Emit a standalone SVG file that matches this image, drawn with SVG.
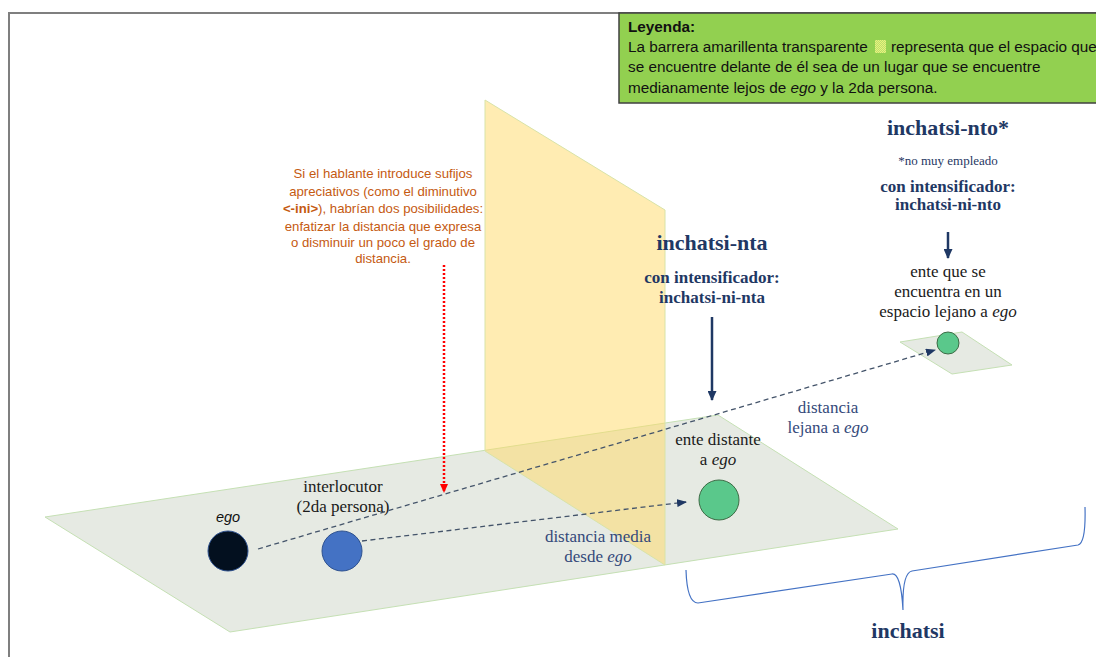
<svg xmlns="http://www.w3.org/2000/svg" width="1096" height="657" viewBox="0 0 1096 657">
  <style>
    .sans { font-family: "Liberation Sans", Arial, sans-serif; }
    .serif { font-family: "Liberation Serif", "Times New Roman", serif; }
    .title { font-family: "Liberation Serif", serif; font-weight: bold; font-size: 22px; fill: #1f3864; text-anchor: middle; }
    .sub { font-family: "Liberation Serif", serif; font-weight: bold; font-size: 17px; fill: #1f3864; text-anchor: middle; }
    .lbl { font-family: "Liberation Serif", serif; font-size: 17px; fill: #1a1a1a; text-anchor: middle; }
    .dist { font-family: "Liberation Serif", serif; font-size: 17px; fill: #34497a; text-anchor: middle; }
    .note { font-family: "Liberation Sans", sans-serif; font-size: 13.2px; fill: #c55a11; text-anchor: middle; }
    .legend { font-family: "Liberation Sans", sans-serif; font-size: 15.3px; fill: #111; }
    .plane { fill: #e6eae3; stroke: #c5e0b4; stroke-width: 1; }
    .dash { stroke: #44546a; stroke-width: 1.3; stroke-dasharray: 5 3.5; fill: none; }
    .navy { stroke: #1f3864; stroke-width: 2.5; fill: none; }
  </style>
  <defs>
    <marker id="dashHead" markerWidth="10" markerHeight="8" refX="9" refY="4" orient="auto" markerUnits="userSpaceOnUse">
      <path d="M0,0 L10,4 L0,8 Z" fill="#1f3864"/>
    </marker>
    <marker id="navyHead" markerWidth="10" markerHeight="9" refX="9" refY="4.5" orient="auto" markerUnits="userSpaceOnUse">
      <path d="M0,0 L10,4.5 L0,9 Z" fill="#1f3864"/>
    </marker>
    <marker id="redHead" markerWidth="9" markerHeight="8" refX="8" refY="4" orient="auto" markerUnits="userSpaceOnUse">
      <path d="M0,0 L9,4 L0,8 Z" fill="#ff0000"/>
    </marker>
    <!-- dotted swatch of the barrier colour -->
    <pattern id="dots" width="2" height="2" patternUnits="userSpaceOnUse">
      <rect width="2" height="2" fill="#b8e070"/>
      <rect width="1" height="1" fill="#ecf27a"/>
      <rect x="1" y="1" width="1" height="1" fill="#ecf27a"/>
    </pattern>
  </defs>

  <rect x="0" y="0" width="1096" height="657" fill="#ffffff"/>
  <!-- page frame -->
  <path d="M9,657 L9,13 L1096,13" fill="none" stroke="#7f7f7f" stroke-width="2"/>

  <!-- legend -->
  <g id="legend">
    <rect x="619" y="13" width="480" height="90" fill="#92d050" stroke="#404040" stroke-width="1.5"/>
    <text class="legend" x="628" y="32" font-weight="bold">Leyenda:</text>
    <text class="legend" x="628" y="52">La barrera amarillenta transparente</text>
    <rect x="875" y="40" width="11" height="13" fill="url(#dots)"/>
    <text class="legend" x="891" y="52">representa que el espacio que</text>
    <text class="legend" x="628" y="72">se encuentre delante de él sea de un lugar que se encuentre</text>
    <text class="legend" x="628" y="93">medianamente lejos de <tspan font-style="italic">ego</tspan> y la 2da persona.</text>
  </g>

  <!-- ground planes -->
  <g id="ground-plane">
    <polygon class="plane" points="45,517 718,415 898,529 230,632"/>
  </g>
  <g id="far-plane">
    <polygon class="plane" points="900,342 962,332 1012,365 952,374"/>
  </g>

  <!-- transparent yellow barrier -->
  <g id="barrier">
    <polygon points="485,100 665,210 665,565 485,451" fill="#ffd966" fill-opacity="0.5" stroke="#d8e3a8" stroke-width="1"/>
  </g>

  <!-- entities -->
  <g id="ego">
    <circle cx="228" cy="551" r="20" fill="#03101f" stroke="#2f528f" stroke-width="1"/>
    <text x="228" y="522" class="sans" font-size="14.5" font-style="italic" fill="#111" text-anchor="middle">ego</text>
  </g>
  <g id="interlocutor">
    <circle cx="342" cy="551" r="20" fill="#4472c4" stroke="#2f528f" stroke-width="1"/>
    <text class="lbl" x="343" y="492">interlocutor</text>
    <text class="lbl" x="343" y="512">(2da persona)</text>
  </g>
  <g id="ente-distante">
    <circle cx="719" cy="500" r="20" fill="#5ac88b" stroke="#3d6b45" stroke-width="1"/>
    <text class="lbl" x="718" y="445">ente distante</text>
    <text class="lbl" x="718" y="465">a <tspan font-style="italic">ego</tspan></text>
  </g>
  <g id="ente-lejano">
    <circle cx="948" cy="343" r="11" fill="#5ac88b" stroke="#3d6b45" stroke-width="1"/>
    <text class="lbl" x="948" y="277">ente que se</text>
    <text class="lbl" x="948" y="297">encuentra en un</text>
    <text class="lbl" x="948" y="317">espacio lejano a <tspan font-style="italic">ego</tspan></text>
  </g>

  <!-- labels -->
  <g id="nta">
    <text class="title" x="712" y="250">inchatsi-nta</text>
    <text class="sub" x="712" y="283">con intensificador:</text>
    <text class="sub" x="712" y="303">inchatsi-ni-nta</text>
  </g>
  <g id="nto">
    <text class="title" x="948" y="135">inchatsi-nto*</text>
    <text class="serif" x="948" y="165" font-size="13" fill="#1f3864" text-anchor="middle">*no muy empleado</text>
    <text class="sub" x="948" y="192">con intensificador:</text>
    <text class="sub" x="948" y="210">inchatsi-ni-nto</text>
  </g>
  <g id="note">
    <text class="note" x="383" y="178">Si el hablante introduce sufijos</text>
    <text class="note" x="383" y="196">apreciativos (como el diminutivo</text>
    <text class="note" x="383" y="213"><tspan font-weight="bold">&lt;-ini&gt;</tspan>), habrían dos posibilidades:</text>
    <text class="note" x="383" y="231">enfatizar la distancia que expresa</text>
    <text class="note" x="383" y="247">o disminuir un poco el grado de</text>
    <text class="note" x="383" y="263">distancia.</text>
  </g>
  <g id="dist-media">
    <text class="dist" x="598" y="542">distancia media</text>
    <text class="dist" x="598" y="562">desde <tspan font-style="italic">ego</tspan></text>
  </g>
  <g id="dist-lejana">
    <text class="dist" x="828" y="413">distancia</text>
    <text class="dist" x="828" y="433">lejana a <tspan font-style="italic">ego</tspan></text>
  </g>
  <g id="inchatsi">
    <path d="M686,570 Q687,603 698,603 L892,574 Q901,573 903,610 Q902,573 912,571 L1078,545 Q1086,543 1085,507" fill="none" stroke="#4472c4" stroke-width="1.2"/>
    <text class="title" x="908" y="638">inchatsi</text>
  </g>

  <!-- connectors -->
  <g id="connectors">
    <line class="dash" x1="258" y1="549" x2="935" y2="350" marker-end="url(#dashHead)"/>
    <line class="dash" x1="362" y1="541" x2="686" y2="502" marker-end="url(#dashHead)"/>
    <line x1="444" y1="265" x2="444" y2="492" stroke="#ff0000" stroke-width="2.5" stroke-dasharray="2 2" marker-end="url(#redHead)"/>
    <line class="navy" x1="712" y1="317" x2="712" y2="400" marker-end="url(#navyHead)"/>
    <line class="navy" x1="948" y1="232" x2="948" y2="258" marker-end="url(#navyHead)"/>
  </g>
</svg>
